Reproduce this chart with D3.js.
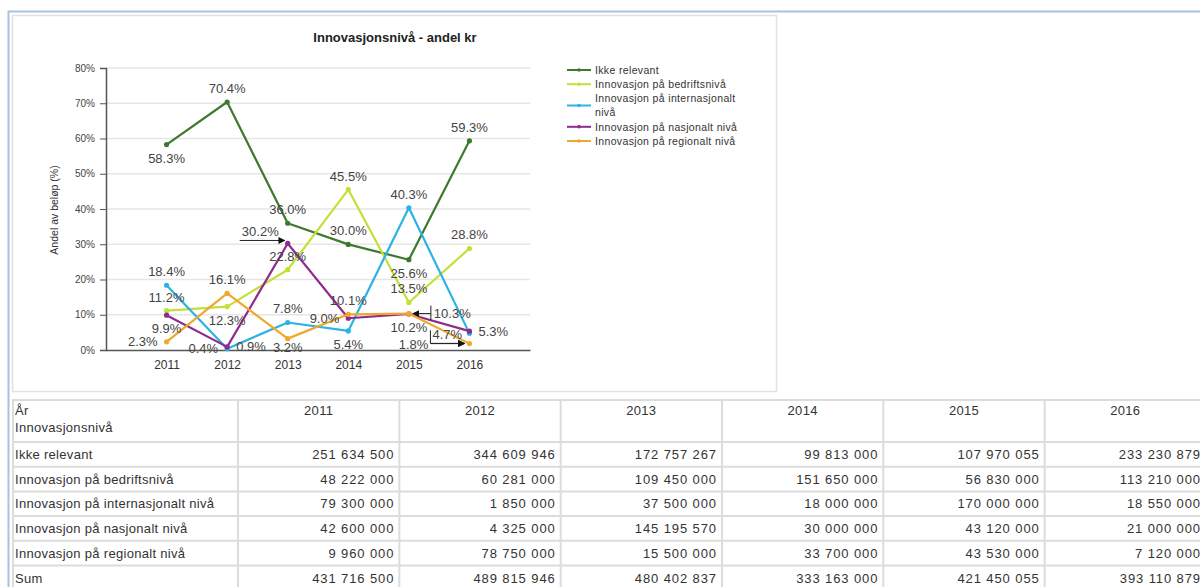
<!DOCTYPE html>
<html>
<head>
<meta charset="utf-8">
<script src="https://cdn.jsdelivr.net/npm/d3@7"></script>
<style>
  body { margin: 0; background: #fff; overflow: hidden; }
  svg { display: block; font-family: "Liberation Sans", Arial, sans-serif; }
</style>
</head>
<body>
<div id="chart"></div>
<script>
const years = [2011, 2012, 2013, 2014, 2015, 2016];

const seriesNames = [
  "Ikke relevant",
  "Innovasjon på bedriftsnivå",
  "Innovasjon på internasjonalt nivå",
  "Innovasjon på nasjonalt nivå",
  "Innovasjon på regionalt nivå",
];

const ikkeRelevant = [251634500, 344609946, 172757267, 99813000, 107970055, 233230879];
const bedriftsniva = [48222000, 60281000, 109450000, 151650000, 56830000, 113210000];
const internasjonalt = [79300000, 1850000, 37500000, 18000000, 170000000, 18550000];
const nasjonalt = [42600000, 4325000, 145195570, 30000000, 43120000, 21000000];
const regionalt = [9960000, 78750000, 15500000, 33700000, 43530000, 7120000];

const yTicks = [0, 10, 20, 30, 40, 50, 60, 70, 80];

const colors = ["#3d7a2e", "#c4df36", "#2cb3e6", "#8f2a8e", "#f0a82c"];

// label placement per point: a=above, b=below, s=just below, l=left, r=right, or a leader object
const labelPlacement = [
  ["b", "a", "a", "a", "b", "a"],
  ["a", "b", "a", "a", "a", "a"],
  ["a", "l", "a", "b", "a", { tx: -37, ty: 6, anchor: "start", path: [[-39, -3], [-39, 10], [-5, 10]] }],
  ["b", "r", { tx: -9, ty: -7, anchor: "end", path: [[-48, -3], [-3, -3]] }, "l", "b", "r"],
  ["l", "a", "s", "a",
    { tx: 25, ty: 4, anchor: "start", path: [[22, 0], [4, 0]], bar: [[22, -8], [22, 7]] },
    { tx: -41, ty: 5, anchor: "end", path: [[-39, 0], [-5, 0]] }],
];

const seriesValues = [ikkeRelevant, bedriftsniva, internasjonalt, nasjonalt, regionalt];
const sums = years.map((y, i) => d3.sum(seriesValues, (s) => s[i]));
const percents = seriesValues.map((s) => s.map((v, i) => (v / sums[i]) * 100));

const W = 1200, H = 587;
const svg = d3.select("#chart").append("svg").attr("width", W).attr("height", H);

// page frame
svg.append("line").attr("x1", 8).attr("x2", W).attr("y1", 11.5).attr("y2", 11.5)
  .attr("stroke", "#a8c2e2").attr("stroke-width", 2);
svg.append("line").attr("x1", 8.5).attr("x2", 8.5).attr("y1", 11).attr("y2", H)
  .attr("stroke", "#a8c2e2").attr("stroke-width", 2);

// chart panel
svg.append("rect").attr("x", 12.5).attr("y", 15.5).attr("width", 764).attr("height", 376)
  .attr("fill", "#fff").attr("stroke", "#e2e2e2").attr("stroke-width", 1.5);

svg.append("text").attr("x", 395).attr("y", 42).attr("text-anchor", "middle")
  .attr("font-size", 13).attr("font-weight", "bold").attr("fill", "#222")
  .text("Innovasjonsnivå - andel kr");

const x = d3.scalePoint().domain(years).range([106, 530]).padding(1);
const y = d3.scaleLinear().domain([0, 80]).range([350, 68]);

// grid
svg.append("g").selectAll("line").data(yTicks.slice(1)).join("line")
  .attr("x1", 106).attr("x2", 530)
  .attr("y1", (d) => y(d)).attr("y2", (d) => y(d))
  .attr("stroke", "#e6e6e6").attr("stroke-width", 1.5);

const yAxis = svg.append("g").attr("transform", "translate(106,0)")
  .call(d3.axisLeft(y).tickValues(yTicks).tickSize(6).tickPadding(5).tickFormat((d) => d + "%"));
yAxis.selectAll("text").attr("font-size", 10).attr("fill", "#444").attr("font-family", null);
yAxis.selectAll("line").attr("stroke", "#555");
yAxis.select(".domain").attr("stroke", "#555").attr("stroke-width", 1.5);

const xAxis = svg.append("g").attr("transform", "translate(0,350)")
  .call(d3.axisBottom(x).tickSize(0).tickPadding(10));
xAxis.selectAll("text").attr("font-size", 12).attr("fill", "#333").attr("font-family", null);
xAxis.select(".domain").attr("stroke", "#555").attr("stroke-width", 1.5);

svg.append("text").attr("transform", "translate(58,210) rotate(-90)")
  .attr("text-anchor", "middle").attr("font-size", 10.5).attr("fill", "#333")
  .text("Andel av beløp (%)");

svg.append("defs").append("marker").attr("id", "arrow")
  .attr("viewBox", "0 0 10 10").attr("refX", 9).attr("refY", 5)
  .attr("markerWidth", 7).attr("markerHeight", 7).attr("orient", "auto")
  .append("path").attr("d", "M0,0L10,5L0,10z").attr("fill", "#111");

const line = d3.line().x((d, i) => x(years[i])).y((d) => y(d));

const seriesG = svg.append("g").selectAll("g").data(percents).join("g");
seriesG.append("path")
  .attr("d", (d) => line(d))
  .attr("fill", "none")
  .attr("stroke", (d, i) => colors[i])
  .attr("stroke-width", 2.2)
  .attr("stroke-linejoin", "round");
seriesG.each(function (d, si) {
  d3.select(this).selectAll("circle").data(d).join("circle")
    .attr("cx", (v, i) => x(years[i])).attr("cy", (v) => y(v))
    .attr("r", 2.6).attr("fill", colors[si]);
});

// data labels
const fmtPct = (v) => d3.format(".1f")(v) + "%";
const labels = svg.append("g").attr("font-size", 13).attr("fill", "#444");
percents.forEach((s, si) => {
  s.forEach((v, i) => {
    const px = x(years[i]), py = y(v);
    const p = labelPlacement[si][i];
    const t = labels.append("text").text(fmtPct(v));
    if (p === "a") t.attr("x", px).attr("y", py - 9).attr("text-anchor", "middle");
    else if (p === "b") t.attr("x", px).attr("y", py + 18).attr("text-anchor", "middle");
    else if (p === "s") t.attr("x", px).attr("y", py + 13).attr("text-anchor", "middle");
    else if (p === "l") t.attr("x", px - 9).attr("y", py + 4.5).attr("text-anchor", "end");
    else if (p === "r") t.attr("x", px + 9).attr("y", py + 4.5).attr("text-anchor", "start");
    else {
      t.attr("x", px + p.tx).attr("y", py + p.ty).attr("text-anchor", p.anchor);
      labels.append("path")
        .attr("d", d3.line()(p.path.map(([dx, dy]) => [px + dx, py + dy])))
        .attr("fill", "none").attr("stroke", "#222").attr("stroke-width", 1)
        .attr("marker-end", "url(#arrow)");
      if (p.bar) {
        labels.append("path")
          .attr("d", d3.line()(p.bar.map(([dx, dy]) => [px + dx, py + dy])))
          .attr("fill", "none").attr("stroke", "#222").attr("stroke-width", 1);
      }
    }
  });
});

// legend
const legendLines = [0, 1, 2.5, 4, 5];
const legend = svg.append("g").selectAll("g").data(seriesNames).join("g")
  .attr("transform", (d, i) => `translate(567,${70 + 14.2 * legendLines[i]})`);
legend.append("line").attr("x1", 0).attr("x2", 24).attr("stroke", (d, i) => colors[i]).attr("stroke-width", 2);
legend.append("circle").attr("cx", 12).attr("r", 1.8).attr("fill", (d, i) => colors[i]);
legend.append("text").attr("x", 28).attr("font-size", 10.5).attr("letter-spacing", 0.35).attr("fill", "#333")
  .each(function (d, i) {
    const t = d3.select(this);
    if (i === 2) {
      t.append("tspan").attr("x", 28).attr("y", -3.5).text("Innovasjon på internasjonalt");
      t.append("tspan").attr("x", 28).attr("y", 10.7).text("nivå");
    } else {
      t.attr("y", 3.8).text(d);
    }
  });

// table
const fmtNum = (v) => d3.format(",")(v).replace(/,/g, " ");
const tableRows = seriesNames.concat(["Sum"]);
const tableValues = seriesValues.concat([sums]);
const colX = d3.scaleBand().domain(years).range([238, 1206]);
const rowY = d3.scaleBand().domain(tableRows).range([442, 442 + 24.7 * tableRows.length]);
const table = svg.append("g").attr("font-size", 13).attr("letter-spacing", 0.3).attr("fill", "#333");
const gridColor = "#dcdcdc";

// horizontal borders
const hLines = [400, 442].concat(tableRows.map((r) => rowY(r) + rowY.bandwidth()));
table.selectAll("line.h").data(hLines).join("line").attr("class", "h")
  .attr("x1", 12).attr("x2", W).attr("y1", (d) => d).attr("y2", (d) => d)
  .attr("stroke", gridColor).attr("stroke-width", 2);
const vLines = [13].concat(years.map((yr) => colX(yr)));
table.selectAll("line.v").data(vLines).join("line").attr("class", "v")
  .attr("x1", (d) => d).attr("x2", (d) => d).attr("y1", 400).attr("y2", H)
  .attr("stroke", gridColor).attr("stroke-width", 2);

table.append("text").attr("x", 15).attr("y", 415).text("År");
table.append("text").attr("x", 15).attr("y", 432).text("Innovasjonsnivå");
table.selectAll("text.yr").data(years).join("text").attr("class", "yr")
  .attr("x", (d) => colX(d) + colX.bandwidth() / 2).attr("y", 415)
  .attr("text-anchor", "middle").text((d) => d);

tableRows.forEach((r, ri) => {
  const ry = rowY(r) + 17;
  table.append("text").attr("x", 15).attr("y", ry).text(r);
  table.selectAll(null).data(tableValues[ri]).join("text")
    .attr("x", (d, i) => colX(years[i]) + colX.bandwidth() - 5).attr("y", ry)
    .attr("text-anchor", "end").attr("letter-spacing", 0.9).text((d) => fmtNum(d));
});
</script>
</body>
</html>
